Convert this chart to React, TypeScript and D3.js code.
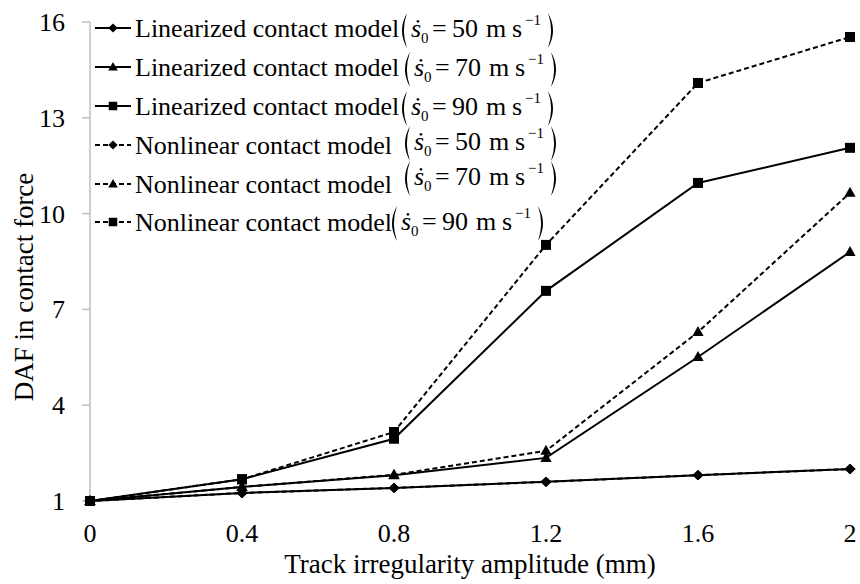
import React from "react";
import * as d3 from "d3";

const xVals = [0, 0.4, 0.8, 1.2, 1.6, 2];
const lin50 = [1, 1.25, 1.41, 1.6, 1.81, 2.0];
const lin70 = [1, 1.44, 1.81, 2.35, 5.51, 8.8];
const lin90 = [1, 1.68, 2.95, 7.58, 10.96, 12.06];
const non50 = [1, 1.25, 1.41, 1.6, 1.81, 2.0];
const non70 = [1, 1.44, 1.82, 2.57, 6.29, 10.65];
const non90 = [1, 1.68, 3.16, 9.02, 14.09, 15.53];

const xTicks = [0, 0.4, 0.8, 1.2, 1.6, 2];
const yTicks = [1, 4, 7, 10, 13, 16];

const seriesNames = [
  "Linearized contact model",
  "Linearized contact model",
  "Linearized contact model",
  "Nonlinear contact model",
  "Nonlinear contact model",
  "Nonlinear contact model",
];
const seriesSpeeds = ["50", "70", "90", "50", "70", "90"];
const seriesValues = [lin50, lin70, lin90, non50, non70, non90];
const seriesMarkers = ["diamond", "triangle", "square", "diamond", "triangle", "square"];
const seriesDashed = [false, false, false, true, true, true];

const xTitle = "Track irregularity amplitude (mm)";
const yTitle = "DAF in contact force";

const W = 860;
const H = 584;
const FONT =
  '"Liberation Serif", "Times New Roman", Times, Tinos, "Noto Serif", "DejaVu Serif", FreeSerif, serif';
const TS: React.CSSProperties = { fontFamily: FONT };

function markerPath(kind: string, s: number) {
  if (kind === "diamond") {
    const w = 5.5 * s, h = 5.2 * s;
    return `M0,${-h}L${w},0L0,${h}L${-w},0Z`;
  }
  if (kind === "triangle") {
    const w = 5.6 * s;
    return `M0,${-6 * s}L${w},${4 * s}L${-w},${4 * s}Z`;
  }
  const a = 5 * s;
  return `M${-a},${-a}L${a},${-a}L${a},${a}L${-a},${a}Z`;
}

function paren(x: number, top: number, bottom: number, left: boolean) {
  const m = (top + bottom) / 2;
  if (left) {
    return `M${x + 7},${top} Q${x - 3},${m} ${x + 7},${bottom} Q${x + 0.8},${m} ${x + 7},${top}Z`;
  }
  return `M${x},${top} Q${x + 10},${m} ${x},${bottom} Q${x + 6.2},${m} ${x},${top}Z`;
}

export default function App() {
  const x = d3.scaleLinear().domain([0, 2]).range([90, 850]);
  const y = d3.scaleLinear().domain([1, 16]).range([501, 22]);
  const line = d3
    .line<number>()
    .x((_, i) => x(xVals[i]))
    .y((d) => y(d));

  const rowY = [28, 67, 106, 145, 184, 222];
  const mathX = [400, 403, 400, 403, 403, 390];
  const mathDy = [0, 0, 0, -4, -8, -1];

  return (
    <svg
      width={W}
      height={H}
      style={{ position: "absolute", left: 0, top: 0, background: "#fff", fontFamily: FONT }}
    >
      <rect x={0} y={0} width={W} height={H} fill="#fff" />
      {/* y axis */}
      <line x1={90} x2={90} y1={y(16)} y2={y(1) + 1} stroke="#bfbfbf" strokeWidth={1.5} />
      {yTicks.map((t) => (
        <g key={t}>
          <line x1={82} x2={90} y1={y(t)} y2={y(t)} stroke="#bfbfbf" strokeWidth={1.5} />
          <text x={65} y={y(t) + 9} textAnchor="end" fontSize={26} fill="#000" style={TS}>
            {t}
          </text>
        </g>
      ))}
      {xTicks.map((t) => (
        <text key={t} x={x(t)} y={542} textAnchor="middle" fontSize={26} fill="#000" style={TS}>
          {t}
        </text>
      ))}
      <text x={470} y={573} textAnchor="middle" fontSize={27} fill="#000" style={TS}>
        {xTitle}
      </text>
      <text
        transform={`translate(33,287) rotate(-90)`}
        textAnchor="middle"
        fontSize={27}
        fill="#000"
        style={TS}
      >
        {yTitle}
      </text>

      {/* series lines */}
      {seriesValues.map((vals, si) => (
        <path
          key={"l" + si}
          d={line(vals) || ""}
          fill="none"
          stroke="#000"
          strokeWidth={2}
          strokeDasharray={seriesDashed[si] ? "5,3" : undefined}
        />
      ))}
      {seriesValues.map((vals, si) =>
        vals.map((v, i) => (
          <path
            key={"m" + si + "-" + i}
            d={markerPath(seriesMarkers[si], 1)}
            transform={`translate(${x(xVals[i])},${y(v)})`}
            fill="#000"
          />
        ))
      )}

      {/* legend */}
      {seriesNames.map((name, i) => {
        const cy = rowY[i];
        const base = cy + 9;
        const px = mathX[i];
        const mb = base + mathDy[i];
        const top = mb - 24;
        const bot = mb + 11;
        return (
          <g key={"lg" + i}>
            <line
              x1={95}
              x2={131}
              y1={cy}
              y2={cy}
              stroke="#000"
              strokeWidth={2}
              strokeDasharray={seriesDashed[i] ? "5,3" : undefined}
            />
            <path
              d={markerPath(seriesMarkers[i], 0.85)}
              transform={`translate(113,${cy})`}
              fill="#000"
            />
            <text x={135} y={base} fontSize={26} fill="#000" style={TS}>
              {name}
            </text>
            <path d={paren(px, top, bot, true)} fill="#000" />
            <text y={mb} fontSize={26} fill="#000" style={TS}>
              <tspan x={px + 11} fontStyle="italic">{"ṡ"}</tspan>
              <tspan x={px + 21} dy={6} fontSize={15}>0</tspan>
              <tspan x={px + 32} dy={-6}>=</tspan>
              <tspan x={px + 52}>{seriesSpeeds[i]}</tspan>
              <tspan x={px + 86}>m</tspan>
              <tspan x={px + 112}>s</tspan>
              <tspan x={px + 125} dy={-12} fontSize={15}>{"−1"}</tspan>
            </text>
            <path d={paren(px + 148, top, bot, false)} fill="#000" />
          </g>
        );
      })}
    </svg>
  );
}
